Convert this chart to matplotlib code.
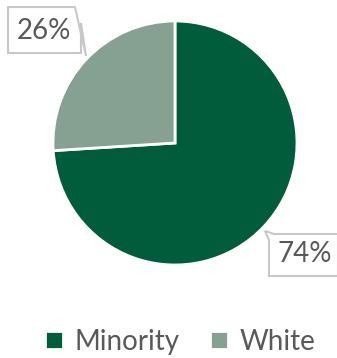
import matplotlib.pyplot as plt
from matplotlib.patches import Polygon

categories = ['Minority', 'White']
shares = [74, 26]
colors = ['#005C3A', '#86A092']
labels = ['74%', '26%']

plt.rcParams['font.family'] = ['Lato', 'DejaVu Sans']

fig = plt.figure(figsize=(3.37, 3.58), dpi=100)
ax = fig.add_axes([0, 0, 1, 1])

wedges, _ = ax.pie(shares, colors=colors, startangle=90, counterclock=False,
                   center=(175, 215), radius=122, explode=[0, 0.02],
                   wedgeprops=dict(edgecolor='white', linewidth=2))
ax.set_xlim(0, 337)
ax.set_ylim(0, 358)
ax.set_aspect('equal')
ax.axis('off')


def callout(x0, y0, x1, y1, tip, side):
    # box outline with a small pointer notch on one corner
    if side == 'right':
        pts = [(x0, y0), (x1, y0), (x1, y1 - 16), tip, (x1 - 6, y1), (x0, y1)]
    else:
        pts = [(x0, y0), (x0, y1 - 6), tip, (x0 + 5, y1), (x1, y1), (x1, y0)]
    ax.add_patch(Polygon(pts, closed=True, facecolor='white',
                         edgecolor='#C8C8C8', linewidth=1.5, zorder=3))


callout(8, 305, 81, 351, (86, 302), 'right')
ax.text(44, 327, labels[1], fontsize=20, color='#595959',
        ha='center', va='center', zorder=4)

callout(269, 82, 338, 124, (265, 127), 'left')
ax.text(305, 104, labels[0], fontsize=20, color='#595959',
        ha='center', va='center', zorder=4)

leg = fig.legend(wedges, categories, loc='center', ncol=2,
                 bbox_to_anchor=(0.535, 0.045), frameon=False, fontsize=20,
                 handlelength=0.65, handleheight=0.65, handletextpad=0.4,
                 columnspacing=1.1)
for t in leg.get_texts():
    t.set_color('#595959')

fig.savefig('out.png', dpi=100)
